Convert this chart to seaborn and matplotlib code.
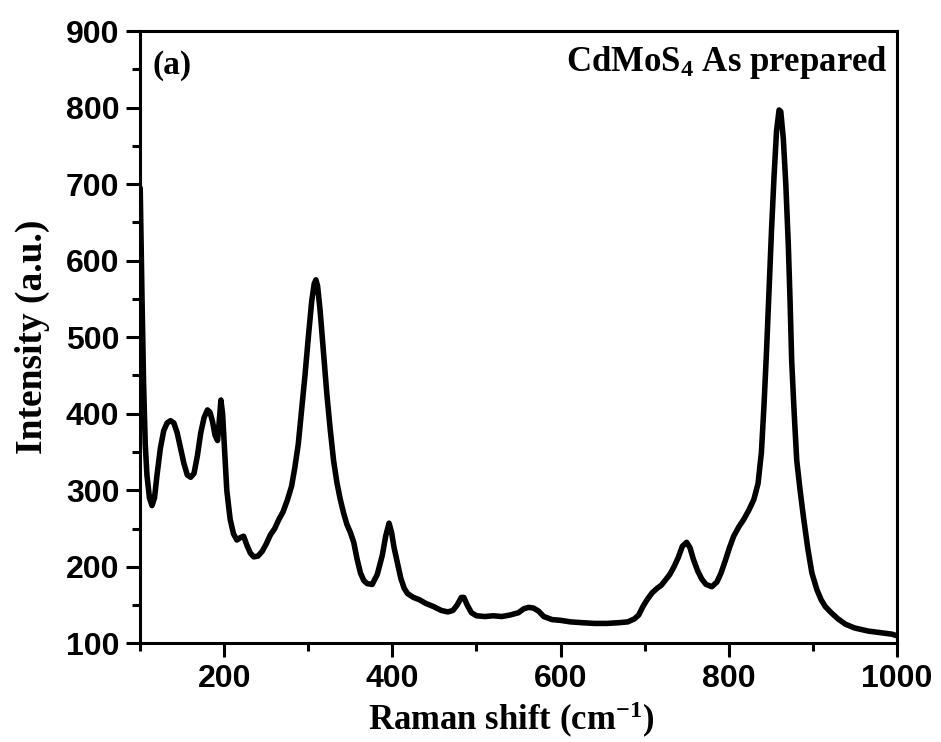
import numpy as np
import pandas as pd
import seaborn as sns
import matplotlib
matplotlib.use("Agg")
import matplotlib.pyplot as plt
from matplotlib.ticker import MultipleLocator

# Raman spectrum
raman_shift = [
    100, 102, 104, 106, 108, 111, 114, 117, 120, 124, 128, 132, 136, 140, 144,
    148, 152, 156, 160, 164, 168, 172, 176, 180, 183, 186, 189, 192, 194, 196,
    198, 200, 203, 207, 211, 215, 219, 223, 227, 231, 235, 240, 245, 250, 255,
    260, 265, 270, 275, 280, 284, 288, 292, 296, 300, 304, 307, 309, 311, 314,
    318, 322, 326, 330, 334, 338, 342, 346, 350, 354, 358, 362, 366, 370, 376,
    382, 388, 392, 396, 399, 402, 406, 410, 414, 418, 425, 432, 440, 449, 458,
    466, 472, 477, 482, 485, 489, 494, 500, 510, 520, 530, 540, 550, 556, 562,
    568, 574, 580, 590, 600, 612, 625, 640, 655, 670, 680, 688, 693, 698, 703,
    709, 715, 720, 725, 730, 735, 740, 745, 750, 754, 758, 763, 768, 773, 780,
    786, 791, 796, 801, 806, 812, 818, 824, 830, 835, 839, 842, 845, 848, 851,
    854, 857, 860, 862, 865, 868, 871, 873, 875, 878, 881, 885, 889, 894, 899,
    905, 910, 915, 922, 930, 939, 950, 966, 980, 994, 1000,
]
intensity = [
    695, 560, 440, 360, 320, 290, 280, 290, 320, 355, 378, 388, 391, 388, 375,
    355, 335, 320, 317, 322, 345, 375, 395, 405, 402, 390, 372, 365, 390, 418,
    400, 360, 300, 262, 243, 235, 238, 240, 228, 218, 213, 214, 220, 230, 242,
    250, 262, 272, 287, 305, 330, 360, 405, 450, 500, 547, 570, 575, 567, 535,
    480, 426, 380, 339, 310, 288, 270, 255, 245, 232, 210, 192, 182, 178, 177,
    190, 215, 240, 257, 245, 225, 205, 185, 172, 165, 160, 157, 152, 148, 143,
    141, 143, 150, 160, 160, 150, 140, 136, 135, 136, 135, 137, 140, 145, 147,
    146, 142, 135, 131, 130, 128, 127, 126, 126, 127, 128, 132, 137, 148, 157,
    166, 172, 176, 183, 190, 200, 212, 227, 232, 225, 210, 195, 184, 177, 174,
    180, 192, 208, 225, 240, 252, 262, 274, 288, 309, 350, 410, 480, 560, 640,
    710, 770, 797, 795, 760, 700, 620, 550, 469, 400, 339, 300, 265, 225, 192,
    170, 157, 148, 140, 132, 125, 120, 116, 114, 112, 110,
]

df = pd.DataFrame({"Raman shift": raman_shift, "Intensity": intensity})

sns.set_style("ticks")
plt.rcParams["font.family"] = ["Liberation Sans", "DejaVu Sans"]
plt.rcParams["text.color"] = "black"
plt.rcParams["axes.labelcolor"] = "black"
plt.rcParams["xtick.color"] = "black"
plt.rcParams["ytick.color"] = "black"
plt.rcParams["mathtext.fontset"] = "custom"
plt.rcParams["mathtext.rm"] = "Liberation Serif:bold"
plt.rcParams["mathtext.bf"] = "Liberation Serif:bold"
plt.rcParams["mathtext.it"] = "Liberation Serif:bold:italic"
plt.rcParams["mathtext.default"] = "bf"

fig = plt.figure(figsize=(9.41, 7.42), dpi=100)
ax = fig.add_axes([0.149, 0.133, 0.804, 0.825])

sns.lineplot(data=df, x="Raman shift", y="Intensity", ax=ax,
             color="black", linewidth=4.0, sort=False)

ax.set_xlim(100, 1000)
ax.set_ylim(100, 900)
ax.xaxis.set_major_locator(MultipleLocator(200))
ax.xaxis.set_minor_locator(MultipleLocator(100))
ax.yaxis.set_major_locator(MultipleLocator(100))
ax.yaxis.set_minor_locator(MultipleLocator(50))

for s in ax.spines.values():
    s.set_linewidth(2.2)
    s.set_color("black")
ax.tick_params(which="major", direction="out", length=10, width=2.2,
               labelsize=23, pad=5)
ax.tick_params(which="minor", direction="out", length=5.5, width=2.2)
for lab in ax.get_xticklabels() + ax.get_yticklabels():
    lab.set_fontweight("bold")

serif = ["Liberation Serif", "DejaVu Serif"]
ax.set_xlabel("Raman shift (cm$^{-1}$)", fontsize=25, fontweight="bold",
              family=serif)
ax.set_ylabel("Intensity (a.u.)", fontsize=27, fontweight="bold", family=serif)
ax.xaxis.set_label_coords(0.49, -0.093)
ax.yaxis.set_label_coords(-0.119, 0.5)

ax.text(0.016, 0.944, "(a)", transform=ax.transAxes, fontsize=24,
        fontweight="bold", family=serif, ha="left", va="center")
ax.text(0.988, 0.949, "CdMoS$_4$ As prepared", transform=ax.transAxes,
        fontsize=25, fontweight="bold", family=serif, ha="right", va="center")

fig.savefig("out.png", dpi=100, facecolor="white")
